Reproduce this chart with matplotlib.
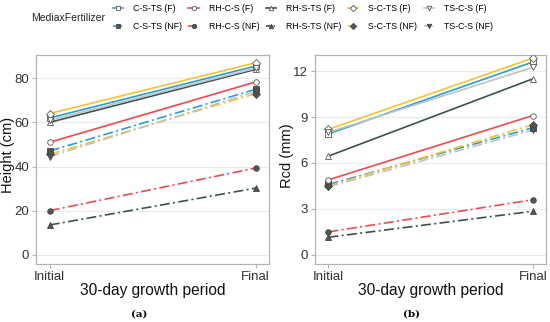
from matplotlib import pyplot as plt
from matplotlib.lines import Line2D

GROUPS = ["C-S-TS", "RH-C-S", "RH-S-TS", "S-C-TS", "TS-C-S"]
COLOR = {
    "C-S-TS": "#2a9fcb",
    "RH-C-S": "#ee4a4f",
    "RH-S-TS": "#3d524e",
    "S-C-TS": "#f4c232",
    "TS-C-S": "#c2c2c2",
}
MARKER = {"C-S-TS": "s", "RH-C-S": "o", "RH-S-TS": "^", "S-C-TS": "D", "TS-C-S": "v"}
STAGES = ["Initial", "Final"]

# height (cm), [initial, final]
HEIGHT_F = {
    "C-S-TS": [62.0, 85.5],
    "RH-C-S": [51.0, 78.3],
    "RH-S-TS": [60.0, 84.0],
    "S-C-TS": [64.0, 87.0],
    "TS-C-S": [61.0, 84.5],
}
HEIGHT_NF = {
    "C-S-TS": [47.0, 75.0],
    "RH-C-S": [20.0, 39.3],
    "RH-S-TS": [13.5, 30.2],
    "S-C-TS": [45.5, 73.0],
    "TS-C-S": [44.5, 74.0],
}
# root collar diameter (mm)
RCD_F = {
    "C-S-TS": [7.9, 12.6],
    "RH-C-S": [4.9, 9.1],
    "RH-S-TS": [6.45, 11.5],
    "S-C-TS": [8.2, 12.85],
    "TS-C-S": [8.0, 12.25],
}
RCD_NF = {
    "C-S-TS": [4.6, 8.3],
    "RH-C-S": [1.5, 3.6],
    "RH-S-TS": [1.15, 2.85],
    "S-C-TS": [4.5, 8.5],
    "TS-C-S": [4.45, 8.15],
}

plt.rcParams.update({"font.family": ["Liberation Sans", "DejaVu Sans"]})
fig = plt.figure(figsize=(5.5, 3.22), dpi=100)
ax_a = fig.add_axes([0.066, 0.180, 0.423, 0.649])
ax_b = fig.add_axes([0.573, 0.180, 0.420, 0.649])


def draw(ax, data_f, data_nf, ylabel, ylim, yticks):
    x = [1, 2]
    for g in GROUPS:
        ax.plot(x, data_nf[g], color=COLOR[g], linestyle=(0, (6, 2, 1.2, 2)), lw=1.2, zorder=2)
        ax.plot(x, data_nf[g], linestyle="none", marker=MARKER[g], ms=4,
                mfc="#555555", mec="#444444", mew=0.6, zorder=3)
    for g in GROUPS:
        ax.plot(x, data_f[g], color=COLOR[g], linestyle="-", lw=1.2, zorder=4)
        ax.plot(x, data_f[g], linestyle="none", marker=MARKER[g], ms=4,
                mfc="white", mec="#555555", mew=0.6, zorder=5)
    ax.set_xlim(0.935, 2.065)
    ax.set_ylim(*ylim)
    ax.set_yticks(yticks)
    ax.set_xticks(x)
    ax.set_xticklabels(STAGES)
    ax.grid(axis="y", color="#ebebeb", lw=0.8)
    ax.set_axisbelow(True)
    for s in ax.spines.values():
        s.set_color("#b3b3b3")
        s.set_linewidth(0.9)
    ax.tick_params(colors="#b3b3b3", labelcolor="#333333", labelsize=9.5, length=3,
                   width=0.8, pad=2)
    ax.set_ylabel(ylabel, fontsize=10.5, color="#111111", va="center")
    ax.set_xlabel("30-day growth period", fontsize=11.2, color="#111111")
    ax.yaxis.set_label_coords(-0.12, 0.52)
    ax.xaxis.set_label_coords(0.5, -0.09)


draw(ax_a, HEIGHT_F, HEIGHT_NF, "Height (cm)", (-4.2, 90.5), [0, 20, 40, 60, 80])
draw(ax_b, RCD_F, RCD_NF, "Rcd (mm)", (-0.6, 13.05), [0, 3, 6, 9, 12])

fig.text(0.253, 0.026, "(a)", fontsize=7.5, family="DejaVu Serif", weight="bold",
         ha="center", va="center")
fig.text(0.749, 0.026, "(b)", fontsize=7.5, family="DejaVu Serif", weight="bold",
         ha="center", va="center")

handles, labels = [], []
for g in GROUPS:
    handles.append(Line2D([], [], color=COLOR[g], lw=1.2, marker=MARKER[g], ms=3.2,
                          mfc="white", mec="#555555", mew=0.6))
    labels.append(f"{g} (F)")
    handles.append(Line2D([], [], color=COLOR[g], lw=1.2, linestyle=(0, (3, 1.5, 1, 1.5)),
                          marker=MARKER[g], ms=3.2, mfc="#555555", mec="#444444", mew=0.6))
    labels.append(f"{g} (NF)")

fig.text(0.056, 0.945, "MediaxFertilizer", fontsize=7.5, va="center", color="#222222")
fig.legend(handles, labels, ncol=5, loc="center left", bbox_to_anchor=(0.205, 0.945),
           frameon=False, fontsize=6.3, handlelength=1.2, handletextpad=1.1,
           columnspacing=0.75, labelspacing=1.05, borderaxespad=0, borderpad=0)

plt.savefig("out.png", dpi=100)
plt.close()
